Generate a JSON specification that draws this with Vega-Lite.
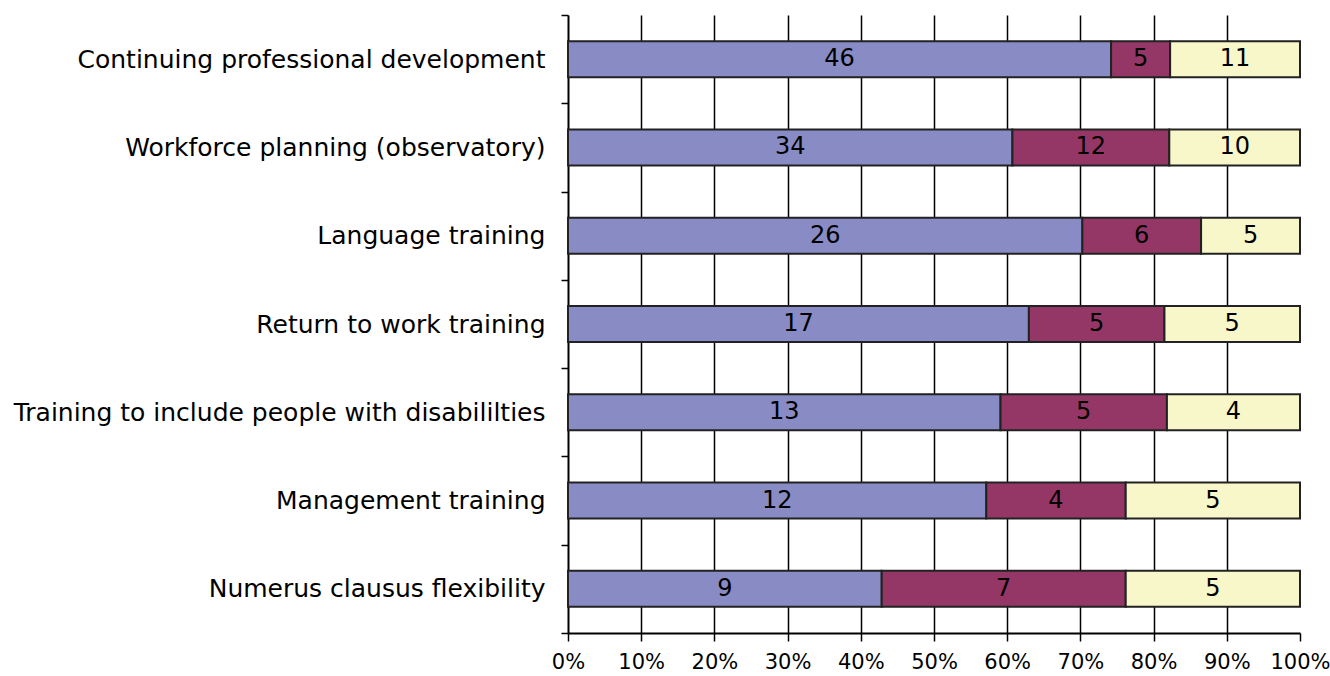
{
  "$schema": "https://vega.github.io/schema/vega-lite/v6.json",
  "autosize": {"type": "none"},
  "padding": {"left": 568, "top": 15, "right": 30, "bottom": 43},
  "width": 732,
  "height": 618,
  "background": "white",
  "data": {
    "values": [
      {"task": "Continuing professional development", "seg": 1, "count": 46},
      {"task": "Continuing professional development", "seg": 2, "count": 5},
      {"task": "Continuing professional development", "seg": 3, "count": 11},
      {"task": "Workforce planning (observatory)", "seg": 1, "count": 34},
      {"task": "Workforce planning (observatory)", "seg": 2, "count": 12},
      {"task": "Workforce planning (observatory)", "seg": 3, "count": 10},
      {"task": "Language training", "seg": 1, "count": 26},
      {"task": "Language training", "seg": 2, "count": 6},
      {"task": "Language training", "seg": 3, "count": 5},
      {"task": "Return to work training", "seg": 1, "count": 17},
      {"task": "Return to work training", "seg": 2, "count": 5},
      {"task": "Return to work training", "seg": 3, "count": 5},
      {"task": "Training to include people with disabililties", "seg": 1, "count": 13},
      {"task": "Training to include people with disabililties", "seg": 2, "count": 5},
      {"task": "Training to include people with disabililties", "seg": 3, "count": 4},
      {"task": "Management training", "seg": 1, "count": 12},
      {"task": "Management training", "seg": 2, "count": 4},
      {"task": "Management training", "seg": 3, "count": 5},
      {"task": "Numerus clausus flexibility", "seg": 1, "count": 9},
      {"task": "Numerus clausus flexibility", "seg": 2, "count": 7},
      {"task": "Numerus clausus flexibility", "seg": 3, "count": 5}
    ]
  },
  "transform": [
    {"stack": "count", "groupby": ["task"], "sort": [{"field": "seg", "order": "ascending"}], "offset": "normalize", "as": ["x0", "x1"]},
    {"calculate": "(datum.x0 + datum.x1) / 2", "as": "xmid"}
  ],
  "encoding": {
    "y": {
      "field": "task",
      "type": "nominal",
      "sort": null,
      "scale": {"paddingInner": 0, "paddingOuter": 0},
      "axis": {
        "title": null,
        "tickBand": "extent",
        "domainColor": "black",
        "domainWidth": 2,
        "tickColor": "black",
        "tickSize": 7,
        "tickWidth": 1.5,
        "labelFont": "DejaVu Sans",
        "labelFontSize": 25,
        "labelColor": "black",
        "labelPadding": 16,
        "labelLimit": 0,
        "grid": false
      }
    }
  },
  "layer": [
    {
      "mark": {"type": "bar", "size": 36, "stroke": "#222222", "strokeWidth": 2},
      "encoding": {
        "x": {
          "field": "x0",
          "type": "quantitative",
          "scale": {"domain": [0, 1], "nice": false},
          "axis": {
            "title": null,
            "format": "%",
            "values": [0, 0.1, 0.2, 0.3, 0.4, 0.5, 0.6, 0.7, 0.8, 0.9, 1],
            "grid": true,
            "gridColor": "black",
            "gridWidth": 1.5,
            "gridOpacity": {"condition": {"test": "datum.value >= 1 || datum.value <= 0", "value": 0}, "value": 1},
            "domainColor": "black",
            "domainWidth": 2,
            "tickColor": "black",
            "tickSize": 8,
            "tickWidth": 1.5,
            "labelFont": "DejaVu Sans",
            "labelFontSize": 21,
            "labelColor": "black",
            "labelPadding": 10,
            "labelFlush": false,
            "labelOverlap": false
          }
        },
        "x2": {"field": "x1"},
        "color": {
          "field": "seg",
          "type": "nominal",
          "scale": {"domain": [1, 2, 3], "range": ["#898BC4", "#953766", "#F8F7C9"]},
          "legend": null
        }
      }
    },
    {
      "mark": {"type": "text", "font": "DejaVu Sans", "fontSize": 24, "color": "black", "align": "center", "baseline": "middle"},
      "encoding": {
        "x": {"field": "xmid", "type": "quantitative"},
        "text": {"field": "count", "type": "quantitative"}
      }
    }
  ],
  "config": {"view": {"stroke": null}}
}
